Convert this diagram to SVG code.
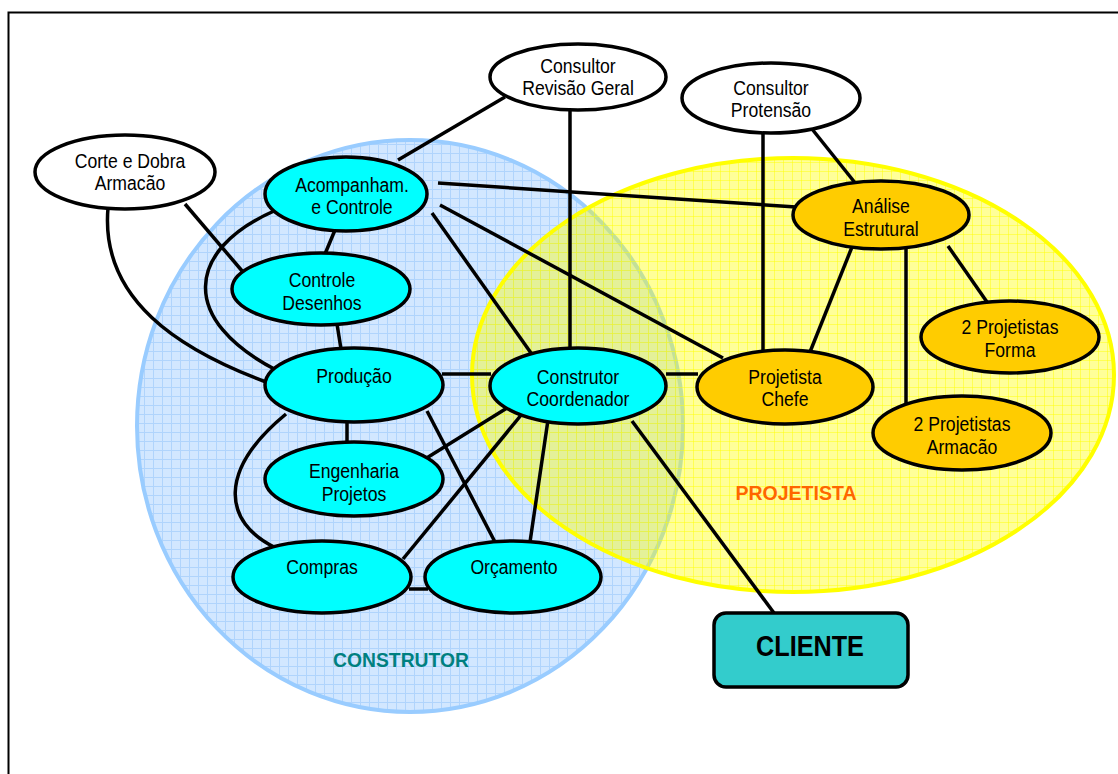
<svg xmlns="http://www.w3.org/2000/svg" width="1118" height="774" viewBox="0 0 1118 774">
  <defs>
    <pattern id="gridBlue" width="9" height="9" patternUnits="userSpaceOnUse">
      <rect width="9" height="9" fill="#d2e7ff"/>
      <path d="M0 0.5H9M0.5 0V9" stroke="#b0d4fc" stroke-width="1" fill="none"/>
    </pattern>
    <pattern id="gridYellow" width="9" height="9" patternUnits="userSpaceOnUse">
      <rect width="9" height="9" fill="#ffff00" fill-opacity="0.4"/>
      <path d="M0 0.5H9M0.5 0V9" stroke="#ffff00" stroke-opacity="0.45" stroke-width="1" fill="none"/>
    </pattern>
  </defs>
  <style>
    .node ellipse { stroke: #000; stroke-width: 3.5; }
    .white ellipse { fill: #ffffff; }
    .cyan ellipse { fill: #00ffff; }
    .gold ellipse { fill: #ffcc00; }
    .node text { font-family: "Liberation Sans", Arial, sans-serif; font-size: 21px; fill: #000; text-anchor: middle; }
    .edges path, .edges line { stroke: #000; stroke-width: 3.5; fill: none; stroke-linecap: butt; }
    .group-label { font-family: "Liberation Sans", Arial, sans-serif; font-weight: bold; text-anchor: middle; }
  </style>

  <!-- page frame -->
  <rect x="8.5" y="12.5" width="1130" height="790" fill="#ffffff" stroke="#000" stroke-width="2"/>

  <!-- group regions -->
  <g id="region-construtor">
    <ellipse cx="410" cy="426" rx="273" ry="286" fill="url(#gridBlue)" stroke="#99ccff" stroke-width="4"/>
    <text class="group-label" transform="matrix(0.92 0 0 1 401 0)" x="0" y="667" font-size="21" fill="#008080">CONSTRUTOR</text>
  </g>
  <g id="region-projetista">
    <ellipse cx="793" cy="375" rx="321" ry="217" fill="url(#gridYellow)" stroke="#ffff00" stroke-width="4"/>
    <text class="group-label" transform="matrix(1 0 0 1 796 0)" x="0" y="500" font-size="19.5" fill="#ff6600">PROJETISTA</text>
  </g>

  <!-- connectors -->
  <g id="connectors" class="edges">
    <line x1="505" y1="97" x2="398" y2="160"/>
    <line x1="570" y1="110" x2="570" y2="349"/>
    <line x1="763" y1="131" x2="763" y2="351"/>
    <line x1="812" y1="129" x2="856" y2="184"/>
    <line x1="185" y1="204" x2="243" y2="272"/>
    <path d="M108 208 C100 300 180 350 266 382"/>
    <line x1="438" y1="183" x2="796" y2="207"/>
    <line x1="432" y1="213" x2="531" y2="353"/>
    <line x1="440" y1="205" x2="723" y2="358"/>
    <line x1="335" y1="230" x2="325" y2="254"/>
    <path d="M274 211 C186 250 178 320 278 371"/>
    <line x1="337" y1="324" x2="341" y2="349"/>
    <line x1="442" y1="374" x2="491" y2="374"/>
    <line x1="347" y1="421" x2="347" y2="443"/>
    <line x1="427" y1="411" x2="495" y2="542"/>
    <path d="M286 414 C218 470 222 522 276 548"/>
    <line x1="666" y1="374" x2="698" y2="374"/>
    <line x1="507" y1="408" x2="425" y2="459"/>
    <line x1="522" y1="414" x2="403" y2="559"/>
    <line x1="548" y1="420" x2="530" y2="542"/>
    <line x1="632" y1="421" x2="774" y2="613"/>
    <line x1="409" y1="589" x2="428" y2="589"/>
    <line x1="852" y1="247" x2="810" y2="352"/>
    <line x1="906" y1="249" x2="906" y2="404"/>
    <line x1="948" y1="246" x2="987" y2="302"/>
  </g>

  <!-- nodes -->
  <g id="consultor-revisao" class="node white">
    <ellipse cx="578" cy="77" rx="88" ry="33"/>
    <text transform="matrix(0.84 0 0 1 578 0)" x="0" y="73">Consultor</text>
    <text transform="matrix(0.84 0 0 1 578 0)" x="0" y="95">Revisão Geral</text>
  </g>
  <g id="consultor-protensao" class="node white">
    <ellipse cx="771" cy="98" rx="89" ry="35"/>
    <text transform="matrix(0.84 0 0 1 771 0)" x="0" y="95">Consultor</text>
    <text transform="matrix(0.84 0 0 1 771 0)" x="0" y="117">Protensão</text>
  </g>
  <g id="corte-dobra" class="node white">
    <ellipse cx="125" cy="172" rx="90" ry="37"/>
    <text transform="matrix(0.84 0 0 1 130 0)" x="0" y="168">Corte e Dobra</text>
    <text transform="matrix(0.84 0 0 1 130 0)" x="0" y="190">Armacão</text>
  </g>
  <g id="acompanhamento" class="node cyan">
    <ellipse cx="346" cy="194" rx="81" ry="37"/>
    <text transform="matrix(0.84 0 0 1 352 0)" x="0" y="192">Acompanham.</text>
    <text transform="matrix(0.84 0 0 1 352 0)" x="0" y="214">e Controle</text>
  </g>
  <g id="controle-desenhos" class="node cyan">
    <ellipse cx="321" cy="289" rx="89" ry="36"/>
    <text transform="matrix(0.84 0 0 1 322 0)" x="0" y="287">Controle</text>
    <text transform="matrix(0.84 0 0 1 322 0)" x="0" y="310">Desenhos</text>
  </g>
  <g id="producao" class="node cyan">
    <ellipse cx="354" cy="385" rx="89" ry="37"/>
    <text transform="matrix(0.84 0 0 1 354 0)" x="0" y="383">Produção</text>
  </g>
  <g id="engenharia" class="node cyan">
    <ellipse cx="354" cy="479" rx="89" ry="37"/>
    <text transform="matrix(0.84 0 0 1 354 0)" x="0" y="478">Engenharia</text>
    <text transform="matrix(0.84 0 0 1 354 0)" x="0" y="501">Projetos</text>
  </g>
  <g id="compras" class="node cyan">
    <ellipse cx="322" cy="577" rx="89" ry="36"/>
    <text transform="matrix(0.84 0 0 1 322 0)" x="0" y="574">Compras</text>
  </g>
  <g id="orcamento" class="node cyan">
    <ellipse cx="513" cy="577" rx="88" ry="36"/>
    <text transform="matrix(0.84 0 0 1 514 0)" x="0" y="574">Orçamento</text>
  </g>
  <g id="construtor-coordenador" class="node cyan">
    <ellipse cx="578" cy="386" rx="88" ry="38"/>
    <text transform="matrix(0.84 0 0 1 578 0)" x="0" y="384">Construtor</text>
    <text transform="matrix(0.84 0 0 1 578 0)" x="0" y="406">Coordenador</text>
  </g>
  <g id="projetista-chefe" class="node gold">
    <ellipse cx="785" cy="387" rx="88" ry="37"/>
    <text transform="matrix(0.84 0 0 1 785 0)" x="0" y="384">Projetista</text>
    <text transform="matrix(0.84 0 0 1 785 0)" x="0" y="406">Chefe</text>
  </g>
  <g id="analise-estrutural" class="node gold">
    <ellipse cx="881" cy="215" rx="88" ry="34"/>
    <text transform="matrix(0.84 0 0 1 881 0)" x="0" y="213">Análise</text>
    <text transform="matrix(0.84 0 0 1 881 0)" x="0" y="236">Estrutural</text>
  </g>
  <g id="projetistas-forma" class="node gold">
    <ellipse cx="1010" cy="337" rx="89" ry="36"/>
    <text transform="matrix(0.84 0 0 1 1010 0)" x="0" y="334">2 Projetistas</text>
    <text transform="matrix(0.84 0 0 1 1010 0)" x="0" y="357">Forma</text>
  </g>
  <g id="projetistas-armacao" class="node gold">
    <ellipse cx="962" cy="433" rx="89" ry="37"/>
    <text transform="matrix(0.84 0 0 1 962 0)" x="0" y="431">2 Projetistas</text>
    <text transform="matrix(0.84 0 0 1 962 0)" x="0" y="454">Armacão</text>
  </g>
  <g id="cliente">
    <rect x="714" y="613" width="194" height="74" rx="12" ry="12" fill="#33cccc" stroke="#000" stroke-width="3.5"/>
    <text class="group-label" transform="matrix(0.87 0 0 1 810 0)" x="0" y="656" font-size="29" fill="#000">CLIENTE</text>
  </g>
</svg>
